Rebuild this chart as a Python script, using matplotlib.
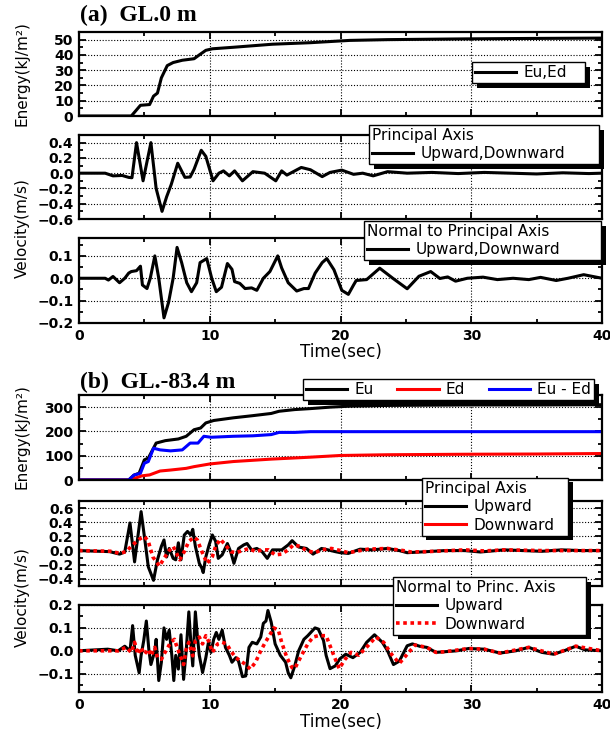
import matplotlib
matplotlib.use("Agg")
import matplotlib.pyplot as plt
from matplotlib.ticker import MultipleLocator, FuncFormatter
from matplotlib.patches import Rectangle
from matplotlib.lines import Line2D
from matplotlib.transforms import IdentityTransform

# ---------------- data ----------------
# (a) GL.0 m : cumulative energy Eu,Ed
a_en_t = [0, 4.0, 4.3, 4.7, 5.4, 5.7, 6.0, 6.3, 6.75, 7.2, 7.9, 8.8, 9.2, 9.7, 10.2,
          11.8, 14.8, 17.7, 20.7, 23.6, 29.6, 35, 40]
a_en_v = [0, 0, 3, 7, 7.5, 13, 15, 25, 33, 35, 36.5, 37.5, 40, 43, 44,
          45, 47, 48, 49.5, 50, 50.5, 50.8, 51]

# (a) principal axis velocity (upward = downward)
a_pr_t = [0, 2.0, 2.6, 3.3, 3.8, 4.05, 4.4, 4.9, 5.5, 5.9, 6.35, 6.7, 7.05, 7.55, 8.1, 8.5,
          8.8, 9.35, 9.7, 10.25, 10.7, 11.05, 11.5, 11.9, 12.5, 13.3, 14.2, 15.05, 15.5,
          15.9, 17.0, 17.7, 18.6, 19.2, 20.1, 21.0, 21.7, 22.5, 23.6, 25.1, 27, 29, 31,
          33, 35, 37, 39, 40]
a_pr_v = [0, 0, -0.035, -0.03, -0.055, -0.06, 0.40, -0.10, 0.40, -0.20, -0.50, -0.31, -0.15,
          0.13, -0.055, -0.05, 0.05, 0.30, 0.22, -0.10, 0.0, 0.03, -0.035, 0.03, -0.10,
          0.02, 0.0, -0.10, 0.03, -0.025, 0.075, 0.045, -0.045, 0.01, 0.04, -0.015, 0.0,
          -0.035, 0.02, 0.0, 0.01, -0.005, 0.01, 0.0, -0.01, 0.005, -0.005, 0.0]

# (a) normal to principal axis velocity
a_nr_t = [0, 2.0, 2.25, 2.6, 3.1, 3.5, 3.8, 4.0, 4.4, 4.7, 4.85, 5.2, 5.45, 5.8, 6.1, 6.5,
          6.85, 7.2, 7.5, 7.85, 8.24, 8.6, 9.0, 9.26, 9.77, 10.15, 10.5, 10.9, 11.35, 11.7,
          11.9, 12.3, 12.7, 13.2, 13.6, 14.1, 14.6, 15.2, 15.5, 16.0, 16.65, 17.2, 17.55,
          18.06, 18.6, 18.95, 19.5, 20.1, 20.6, 21.0, 21.2, 22.0, 23.0, 24.0, 25.1, 26.0,
          26.9, 27.6, 28.2, 28.8, 29.7, 30.9, 32.0, 33.2, 34.4, 35.3, 36.5, 37.4, 38.6, 40]
a_nr_v = [0, 0, -0.008, 0.008, -0.02, 0.0, 0.023, 0.03, 0.034, 0.054, -0.03, -0.046, 0.0,
          0.10, 0.0, -0.177, -0.108, 0.0, 0.138, 0.07, -0.02, -0.06, -0.02, 0.07, 0.088,
          0.0, -0.06, -0.04, 0.066, 0.04, -0.015, -0.023, -0.046, -0.043, -0.054, 0.0,
          0.03, 0.10, 0.046, -0.02, -0.057, -0.046, -0.046, 0.023, 0.07, 0.088, 0.038,
          -0.054, -0.072, -0.03, -0.01, -0.006, 0.045, 0.0, -0.047, 0.009, 0.03, -0.001,
          0.006, -0.013, 0.0, 0.005, -0.006, 0.0, -0.006, 0.004, -0.01, 0.0, 0.016, 0.0]

# (b) GL.-83.4 m : energies
b_eu_t = [0, 3.8, 4.2, 4.6, 5.0, 5.3, 5.9, 6.6, 7.6, 8.2, 8.8, 9.3, 9.7, 10.3, 11.8, 13.3,
          14.7, 15.3, 16.5, 17.7, 19.2, 20.7, 23.6, 26.6, 30, 35, 40]
b_eu_v = [0, 0, 20, 28, 83, 90, 152, 162, 169, 180, 207, 214, 235, 245, 256, 265,
          274, 283, 290, 294, 300, 304, 307, 308, 309, 309, 310]
b_ed_t = [0, 3.9, 4.8, 5.4, 6.2, 7.0, 8.2, 8.8, 10.0, 11.8, 14.7, 17.7, 20.0, 23.6, 29.5,
          35, 40]
b_ed_v = [0, 0, 17, 21, 37, 41, 48, 55, 66, 76, 86, 94, 101, 104, 106, 107, 109]
b_df_t = [0, 3.8, 4.2, 4.7, 5.0, 5.3, 5.7, 6.2, 7.0, 7.9, 8.5, 9.1, 9.55, 10.1, 11.8, 13.3,
          14.7, 15.3, 16.5, 17.7, 20, 30, 40]
b_df_v = [0, 0, 20, 28, 69, 76, 131, 124, 120, 124, 152, 152, 180, 176, 180, 182,
          187, 196, 196, 199, 199, 199, 199]

# (b) principal axis: upward / downward
b_pu_t = [0, 2.35, 3.1, 3.5, 3.9, 4.25, 4.75, 5.1, 5.3, 5.7, 6.0, 6.3, 6.5, 6.7, 6.9, 7.2,
          7.4, 7.6, 7.8, 8.05, 8.3, 8.55, 8.7, 8.9, 9.2, 9.4, 9.5, 9.7, 9.95, 10.2, 10.45,
          10.65, 10.95, 11.35, 11.6, 11.85, 12.2, 12.6, 12.85, 13.2, 13.6, 14.0, 14.4, 14.8,
          15.5, 16.0, 16.3, 16.8, 17.4, 17.9, 18.55, 19.05, 19.6, 20.0, 20.6, 21.5, 22.4,
          23.6, 24.5, 25.1, 26.6, 28.0, 29.5, 30.7, 32.5, 34.0, 35.4, 36.9, 38.4, 40]
b_pu_v = [0, -0.015, -0.05, -0.02, 0.39, -0.16, 0.55, 0.06, -0.23, -0.42, -0.13, 0.06, 0.15,
          -0.09, 0.03, -0.11, -0.13, 0.11, -0.13, 0.22, 0.27, 0.22, 0.30, 0.06, -0.18,
          -0.25, -0.31, -0.09, 0.08, 0.22, 0.13, -0.11, -0.06, 0.10, -0.015, -0.18, 0.03,
          0.08, 0.10, 0.01, 0.03, -0.015, -0.11, 0.01, 0.01, 0.08, 0.14, 0.05, 0.03, -0.05,
          0.03, 0.01, -0.015, -0.03, -0.04, 0.02, 0.01, 0.03, 0.0, -0.03, -0.015, 0.0, 0.0,
          -0.02, 0.01, 0.0, -0.01, 0.01, 0.0, 0.0]
b_pd_t = [0, 2.5, 3.1, 3.6, 4.1, 4.6, 5.0, 5.3, 5.65, 6.15, 6.5, 6.9, 7.2, 7.4, 7.7, 8.05,
          8.4, 8.8, 9.05, 9.4, 9.8, 10.2, 10.45, 10.8, 11.2, 11.6, 12.0, 12.5, 13.0, 13.5,
          14.0, 14.5, 15.0, 15.5, 16.0, 16.4, 16.9, 17.4, 18.05, 18.55, 19.3, 20.0, 20.6,
          22.1, 23.6, 24.8, 25.4, 26.6, 29.5, 31.0, 32.5, 35.4, 38.4, 40]
b_pd_v = [0, -0.01, -0.04, -0.015, 0.08, 0.16, 0.20, 0.13, -0.09, -0.22, -0.11, 0.0, 0.06,
          -0.015, -0.13, -0.015, 0.13, 0.19, 0.15, -0.015, -0.18, -0.085, 0.06, 0.16, 0.08,
          -0.015, -0.03, 0.0, 0.03, -0.015, 0.01, 0.01, -0.06, -0.05, 0.01, 0.08, 0.06, 0.0,
          -0.03, 0.01, 0.03, 0.0, -0.03, 0.02, 0.03, 0.0, -0.02, -0.015, 0.01, -0.005, 0.01,
          0.0, 0.0, 0.0]

# (b) normal to principal axis: upward / downward
b_nu_t = [0, 2.2, 3.0, 3.5, 3.9, 4.1, 4.3, 4.6, 4.75, 4.95, 5.15, 5.35, 5.5, 5.8, 5.9, 6.1,
          6.3, 6.5, 6.7, 6.9, 7.1, 7.25, 7.4, 7.6, 7.8, 8.0, 8.2, 8.4, 8.55, 8.7, 8.9, 9.05,
          9.2, 9.45, 9.7, 9.9, 10.1, 10.3, 10.5, 10.7, 10.95, 11.2, 11.5, 11.7, 12.0, 12.2,
          12.5, 12.75, 13.0, 13.25, 13.6, 13.9, 14.1, 14.3, 14.45, 14.7, 15.0, 15.4, 15.8,
          16.0, 16.2, 16.5, 16.8, 17.2, 17.5, 18.05, 18.3, 18.7, 18.9, 19.2, 19.6, 19.95,
          20.4, 20.95, 21.5, 22.0, 22.6, 23.2, 23.6, 24.05, 24.5, 25.1, 25.5, 26.1, 26.6,
          27.3, 28.0, 28.9, 29.8, 31.0, 32.2, 33.4, 34.4, 35.4, 36.3, 37.1, 38.0, 38.7, 40]
b_nu_v = [0, 0.007, 0.0, 0.02, 0.0, 0.11, -0.02, -0.096, -0.02, 0.044, 0.13, 0.0, -0.06,
          0.0, 0.05, -0.13, -0.05, 0.10, 0.05, 0.09, -0.02, -0.13, -0.02, -0.08, 0.07,
          -0.125, 0.0, 0.17, 0.04, -0.066, 0.17, 0.066, -0.02, -0.095, -0.03, 0.037,
          -0.007, 0.05, 0.08, 0.05, 0.09, 0.015, -0.02, -0.05, -0.03, -0.045, -0.113,
          -0.11, 0.015, 0.037, 0.03, 0.06, 0.12, 0.13, 0.176, 0.125, 0.03, -0.02, -0.05,
          -0.096, -0.118, -0.066, 0.0, 0.05, 0.066, 0.10, 0.095, 0.045, -0.02, -0.078,
          -0.066, -0.035, -0.015, -0.03, -0.007, 0.037, 0.07, 0.037, 0.0, -0.06, -0.045,
          0.022, 0.03, 0.019, 0.015, -0.007, -0.004, 0.0, 0.01, 0.007, -0.01, 0.0, 0.015,
          -0.007, -0.015, 0.0, 0.02, 0.004, 0.0]
b_nd_t = [0, 3.0, 3.6, 4.0, 4.25, 4.5, 4.75, 5.0, 5.3, 5.5, 5.8, 6.0, 6.3, 6.5, 6.8, 7.0,
          7.3, 7.5, 7.8, 8.0, 8.2, 8.4, 8.7, 8.9, 9.2, 9.45, 9.7, 9.95, 10.2, 10.6, 10.95,
          11.3, 11.6, 12.0, 12.35, 12.75, 13.1, 13.5, 13.9, 14.25, 14.6, 14.9, 15.25, 15.5,
          15.9, 16.3, 16.5, 17.0, 17.5, 17.9, 18.3, 18.9, 19.5, 19.9, 20.35, 20.8, 21.4,
          22.1, 22.7, 23.3, 23.9, 24.5, 25.1, 25.7, 26.6, 27.3, 28.0, 29.8, 31.0, 32.2,
          34.4, 36.3, 38.0, 40]
b_nd_v = [0, 0.0, 0.015, -0.007, 0.037, -0.015, 0.015, -0.015, 0.007, -0.022, 0.015, -0.03,
          -0.037, -0.015, 0.015, 0.037, 0.05, 0.015, -0.03, -0.06, 0.007, 0.037, -0.022,
          0.044, 0.06, 0.03, 0.066, 0.037, -0.007, 0.03, 0.037, 0.03, 0.0, -0.03, -0.044,
          -0.06, -0.08, -0.05, 0.0, 0.037, 0.07, 0.10, 0.09, 0.037, -0.03, -0.074, -0.078,
          -0.022, 0.03, 0.06, 0.066, 0.066, -0.022, -0.078, -0.037, -0.007, -0.019, 0.022,
          0.06, 0.037, -0.015, -0.055, -0.015, 0.025, 0.015, -0.007, -0.004, 0.01, 0.007,
          -0.01, 0.015, -0.015, 0.02, 0.0]

titles = ["(a)  GL.0 m", "(b)  GL.-83.4 m"]
energy_label = "Energy(kJ/m²)"
velocity_label = "Velocity(m/s)"
time_label = "Time(sec)"

# ---------------- figure ----------------
W, H = 610, 735
plt.rcParams['font.family'] = ['DejaVu Sans']
plt.rcParams['font.weight'] = 'bold'
fig = plt.figure(figsize=(W / 100, H / 100), dpi=100)

LEFT, RIGHT = 79, 602


def fx(x):
    return x / W


def fy(y):
    return 1 - y / H


def fmt1(x, pos):
    s = f"{x:.1f}"
    if s == "-0.0":
        s = "0.0"
    return s.replace("-", "\u2212")


def fmt0(x, pos):
    return f"{x:.0f}"


def make_axes(top, bottom, ylim, ymaj, ymin, fmt, xlabels):
    ax = fig.add_axes([fx(LEFT), fy(bottom), (RIGHT - LEFT) / W, (bottom - top) / H])
    ax.set_xlim(0, 40)
    ax.set_ylim(*ylim)
    ax.xaxis.set_major_locator(MultipleLocator(10))
    ax.xaxis.set_minor_locator(MultipleLocator(5))
    ax.yaxis.set_major_locator(MultipleLocator(ymaj))
    ax.yaxis.set_minor_locator(MultipleLocator(ymin))
    ax.yaxis.set_major_formatter(FuncFormatter(fmt))
    ax.tick_params(which='both', direction='in', top=True, right=True, width=1.3,
                   labelsize=10, pad=4)
    ax.tick_params(which='major', length=5)
    ax.tick_params(which='minor', length=3)
    if not xlabels:
        ax.tick_params(axis='x', labelbottom=False)
    ax.grid(True, which='major', color='k', ls=(0, (1, 1.6)), lw=0.8)
    for s in ax.spines.values():
        s.set_linewidth(1.6)
    return ax


legends = []


def add_legend(ax, handles, labels, x0, y0, x1, title=None, ncol=1):
    leg = ax.legend(handles, labels, loc='upper left',
                    bbox_to_anchor=(fx(x0), fy(y0), (x1 - x0) / W, 0),
                    bbox_transform=fig.transFigure, mode='expand', borderaxespad=0,
                    ncol=ncol, title=title, alignment='left',
                    prop={'size': 11, 'weight': 'normal'},
                    title_fontproperties={'size': 11, 'weight': 'normal'},
                    frameon=True, fancybox=False, framealpha=1, edgecolor='k',
                    borderpad=0.2, labelspacing=0.22, handlelength=2.7,
                    handletextpad=0.45, columnspacing=1.2)
    leg.get_frame().set_linewidth(1.0)
    legends.append((ax, leg))
    return leg


red_dot = dict(color='#ff0000', lw=2.6, ls=(0, (1, 1)))

# ----- (a) -----
ax1 = make_axes(32, 116, (0, 55), 10, 5, fmt0, False)
l_a1, = ax1.plot(a_en_t, a_en_v, color='k', lw=2.2)
add_legend(ax1, [l_a1], ["Eu,Ed"], 472, 62, 585)

ax2 = make_axes(135, 219, (-0.6, 0.5), 0.2, 0.1, fmt1, False)
l_a2, = ax2.plot(a_pr_t, a_pr_v, color='k', lw=2.2)
add_legend(ax2, [l_a2], ["Upward,Downward"], 369, 125, 599, title="Principal Axis")

ax3 = make_axes(238, 323, (-0.2, 0.18), 0.1, 0.05, fmt1, True)
l_a3, = ax3.plot(a_nr_t, a_nr_v, color='k', lw=2.2)
add_legend(ax3, [l_a3], ["Upward,Downward"], 364, 221, 601,
           title="Normal to Principal Axis")

# ----- (b) -----
bx1 = make_axes(395, 480, (0, 350), 100, 50, fmt0, False)
l_eu, = bx1.plot(b_eu_t, b_eu_v, color='k', lw=2.2)
l_ed, = bx1.plot(b_ed_t, b_ed_v, color='#ff0000', lw=2.2)
l_df, = bx1.plot(b_df_t, b_df_v, color='#0000ff', lw=2.2)
add_legend(bx1, [l_eu, l_ed, l_df], ["Eu", "Ed", "Eu - Ed"], 303, 379, 594, ncol=3)

bx2 = make_axes(501, 586, (-0.5, 0.7), 0.2, 0.1, fmt1, False)
l_pu, = bx2.plot(b_pu_t, b_pu_v, color='k', lw=2.2)
bx2.plot(b_pd_t, b_pd_v, **red_dot)
add_legend(bx2, [l_pu, Line2D([], [], color='#ff0000', lw=2.2)],
           ["Upward", "Downward"], 422, 478, 568, title="Principal Axis")

bx3 = make_axes(605, 692, (-0.18, 0.2), 0.1, 0.05, fmt1, True)
l_nu, = bx3.plot(b_nu_t, b_nu_v, color='k', lw=2.2)
l_nd, = bx3.plot(b_nd_t, b_nd_v, **red_dot)
add_legend(bx3, [l_nu, l_nd], ["Upward", "Downward"], 393, 577, 586,
           title="Normal to Princ. Axis")

# ----- labels -----
for i, (ty, ey, vy, xy) in enumerate([(15, 74, 228, 352), (382, 437, 597, 722)]):
    fig.text(fx(80), fy(ty), titles[i], family='Liberation Serif', weight='bold',
             size=17, va='center', ha='left')
    fig.text(fx(22), fy(ey), energy_label, rotation=90, size=11, weight='normal',
             va='center', ha='center')
    fig.text(fx(22), fy(vy), velocity_label, rotation=90, size=11, weight='normal',
             va='center', ha='center')
    fig.text(fx((LEFT + RIGHT) / 2), fy(xy), time_label, size=12, weight='normal',
             va='center', ha='center')

# ----- legend shadows -----
fig.canvas.draw()
for ax, leg in legends:
    bb = leg.get_frame().get_window_extent()
    sh = Rectangle((bb.x0 + 4.5, bb.y0 - 4.5), bb.width, bb.height,
                   transform=IdentityTransform(), facecolor='k', edgecolor='none',
                   zorder=4.9)
    ax.add_artist(sh)
    sh.set_clip_on(False)

fig.savefig("out.png", dpi=100)
